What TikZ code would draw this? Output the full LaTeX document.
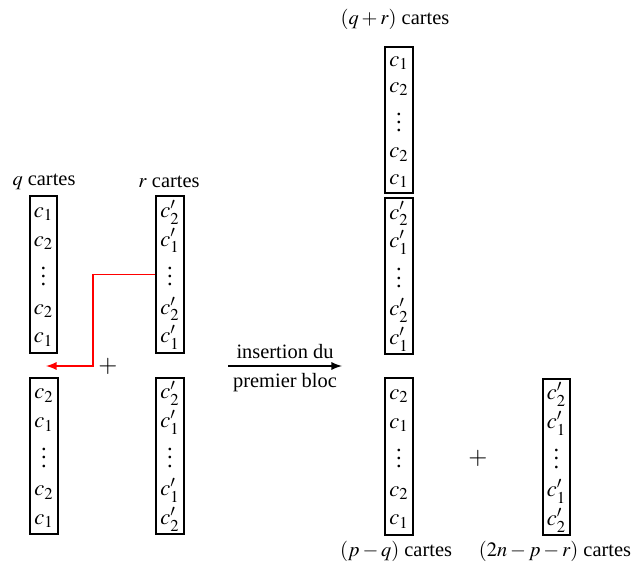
\documentclass[tikz,border=0pt]{standalone}
\usepackage{mathptmx}
\usepackage[no-math]{fontspec}
\setmainfont{Liberation Serif}
\usetikzlibrary{positioning}

\newcommand{\pileA}{$\begin{array}{c} c_1\\ c_2\\ \vdots\\ c_2\\ c_1 \end{array}$}
\newcommand{\pileB}{$\begin{array}{c} c_2\\ c_1\\ \vdots\\ c_2\\ c_1 \end{array}$}
\newcommand{\pileC}{$\begin{array}{c} c'_2\\ c'_1\\ \vdots\\ c'_2\\ c'_1 \end{array}$}
\newcommand{\pileD}{$\begin{array}{c} c'_2\\ c'_1\\ \vdots\\ c'_1\\ c'_2 \end{array}$}

\begin{document}
\begin{tikzpicture}[x=0.49pt, y=-0.49pt, node distance=2.5pt]
  \tikzstyle{pile} = [rectangle, draw, line width=1pt, inner sep=0pt,
  minimum width=13.3pt, minimum height=76.5pt, font=\fontsize{11}{13}\selectfont]
  \tikzstyle{plus} = [font=\large]
  \renewcommand{\arraystretch}{1.08}
  \setlength{\arraycolsep}{0pt}

  \useasboundingbox (0,0) rectangle (636,562);

  % Define nodes
  \node[pile] (qtop) at (43.5,274.5) {\pileA};
  \node[pile] (rtop) at (170,274.5) {\pileC};
  \node[pile] (qbot) at (44,456) {\pileB};
  \node[pile] (rbot) at (170,456) {\pileD};
  \node (qlab) at (44,182) {$q$ cartes};
  \node (rlab) at (169,182) {$r$ cartes};
  \node[plus] (plus1) at (108,366) {$+$};

  \node[pile, minimum height=71.5pt] (sone) at (399,120)
    {\renewcommand{\arraystretch}{1.0}\pileA};
  \node[pile, below=1.5pt of sone] (stwo) {\pileC};
  \node (slab) at (395,19) {$(q+r)$ cartes};
  \node[pile] (pq) at (399,456.5) {\pileB};
  \node[pile] (rest) at (556.5,457) {\pileD};
  \node (pqlab) at (396,551) {$(p-q)$ cartes};
  \node (restlab) at (555,551) {$(2n-p-r)$ cartes};
  \node[plus] (plus2) at (478,458) {$+$};

  \coordinate (from) at (228,366);
  \coordinate (to) at (342,366);
  \coordinate (tip) at (46,366);
  \coordinate (bend) at (93,366);

  \draw [->, >=latex, line width=0.8pt] (from) --
      node [above] {insertion du} node [below] {premier bloc} (to);
  \draw [->, >=latex, red, line width=0.8pt] (rtop.west) -| (bend) -- (tip);
\end{tikzpicture}
\end{document}
